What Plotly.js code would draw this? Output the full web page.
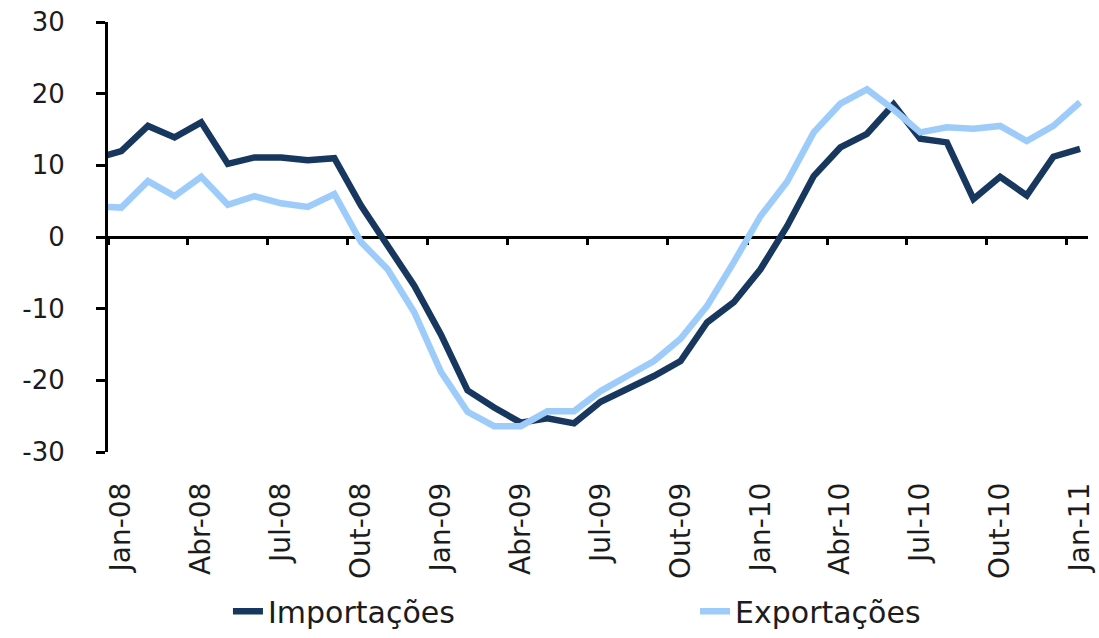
<!DOCTYPE html>
<html>
<head>
<meta charset="utf-8">
<script src="https://cdn.plot.ly/plotly-3.0.1.min.js"></script>
<style>html,body{margin:0;padding:0;background:#fff;}#chart{width:1099px;height:638px;}</style>
</head>
<body>
<div id="chart"></div>
<script>
// Months (Dez-07 only feeds the short segment that reaches the y axis)
const months = ["Dez-07",
  "Jan-08","Fev-08","Mar-08","Abr-08","Mai-08","Jun-08","Jul-08","Ago-08","Set-08","Out-08","Nov-08","Dez-08",
  "Jan-09","Fev-09","Mar-09","Abr-09","Mai-09","Jun-09","Jul-09","Ago-09","Set-09","Out-09","Nov-09","Dez-09",
  "Jan-10","Fev-10","Mar-10","Abr-10","Mai-10","Jun-10","Jul-10","Ago-10","Set-10","Out-10","Nov-10","Dez-10",
  "Jan-11"];

const importacoes = [10.9,
  12.0, 15.5, 13.9, 16.0, 10.2, 11.1, 11.1, 10.7, 11.0, 4.4, -1.0, -6.8,
  -13.6, -21.4, -23.8, -25.9, -25.3, -26.0, -23.0, -21.2, -19.4, -17.3, -11.9, -9.1,
  -4.5, 1.5, 8.5, 12.5, 14.4, 18.5, 13.7, 13.2, 5.3, 8.4, 5.8, 11.2,
  12.3];

const exportacoes = [4.3,
  4.1, 7.8, 5.7, 8.4, 4.5, 5.7, 4.7, 4.2, 6.0, -0.7, -4.5, -10.5,
  -18.8, -24.4, -26.4, -26.4, -24.3, -24.3, -21.5, -19.4, -17.3, -14.2, -9.6, -3.5,
  2.9, 7.7, 14.6, 18.6, 20.6, 17.8, 14.6, 15.3, 15.1, 15.5, 13.4, 15.5,
  18.8];

const tickLabels = ["Jan-08","Abr-08","Jul-08","Out-08","Jan-09","Abr-09","Jul-09","Out-09","Jan-10","Abr-10","Jul-10","Out-10","Jan-11"];
const yTicks = [-30,-20,-10,0,10,20,30];

const seriesNames = ["Importações","Exportações"];
const seriesColors = ["#17375E","#9DCCFA"];

const FONT = "DejaVu Sans, Liberation Sans, Arial, sans-serif";
const TXT = "#1c1c1c";

const traces = [
  {x: months, y: importacoes, name: seriesNames[0], type: "scatter", mode: "lines",
   line: {color: seriesColors[0], width: 6.5}, xaxis: "x", yaxis: "y", legend: "legend"},
  {x: months, y: exportacoes, name: seriesNames[1], type: "scatter", mode: "lines",
   line: {color: seriesColors[1], width: 6.5}, xaxis: "x2", yaxis: "y", legend: "legend2"}
];

const xRange = [0.5, 37.3];
const legendFont = {family: FONT, size: 30, color: TXT};
const legendY = 0.042;

const layout = {
  width: 1099, height: 638,
  margin: {l: 108, r: 11, t: 22, b: 186, pad: 0, autoexpand: false},
  paper_bgcolor: "#ffffff", plot_bgcolor: "#ffffff",
  font: {family: FONT, color: TXT},
  showlegend: true,
  legend: {orientation: "h", x: 0.1224, xanchor: "left", y: legendY, yref: "container", yanchor: "middle",
           font: legendFont, bgcolor: "rgba(0,0,0,0)"},
  legend2: {orientation: "h", x: 0.599, xanchor: "left", y: legendY, yref: "container", yanchor: "middle",
           font: legendFont, bgcolor: "rgba(0,0,0,0)"},
  xaxis: {type: "category", categoryorder: "array", categoryarray: months, range: xRange,
          tickmode: "array", tickvals: tickLabels, ticktext: tickLabels, tickangle: -90,
          ticks: "", showline: false, showgrid: false, zeroline: false, automargin: false,
          tickfont: {family: FONT, size: 28, color: TXT}, ticklabelstandoff: 24},
  xaxis2: {type: "category", categoryorder: "array", categoryarray: months, range: xRange,
           overlaying: "x", anchor: "free", position: 0.5, side: "bottom",
           tickmode: "linear", tick0: 1, dtick: 3, tickson: "boundaries",
           ticks: "outside", ticklen: 6, tickwidth: 3, tickcolor: "#000", automargin: false,
           showline: true, linewidth: 3, linecolor: "#000", showticklabels: false,
           showgrid: false, zeroline: false, layer: "below traces"},
  yaxis: {range: [-30, 30], tickmode: "array", tickvals: yTicks, ticktext: yTicks.map(String),
          ticks: "outside", ticklen: 9, tickwidth: 3, tickcolor: "#000", automargin: false,
          showline: true, linewidth: 3, linecolor: "#000", showgrid: false, zeroline: false,
          tickfont: {family: FONT, size: 26, color: TXT}, ticklabelstandoff: 26}
};

Plotly.newPlot("chart", traces, layout, {displayModeBar: false, staticPlot: true});
</script>
</body>
</html>
